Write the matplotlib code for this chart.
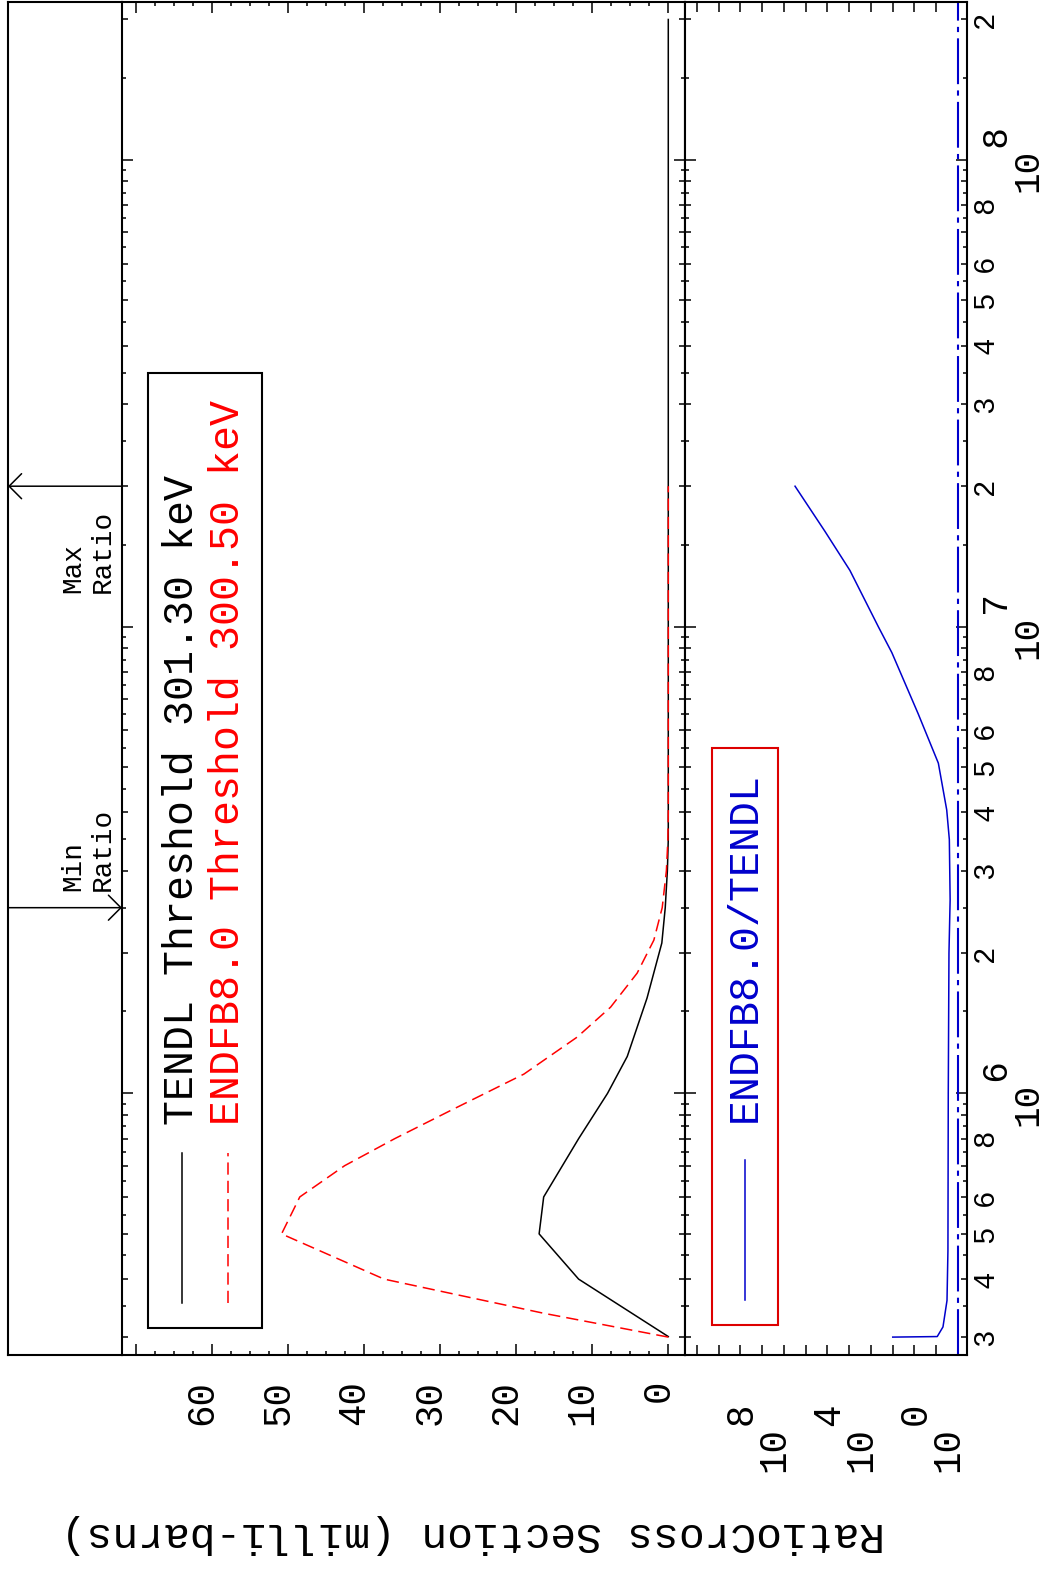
import numpy as np
import matplotlib
matplotlib.use("Agg")
import matplotlib.pyplot as plt
from matplotlib import transforms
from matplotlib.patches import Rectangle
from matplotlib.ticker import FixedLocator, FuncFormatter, MultipleLocator, NullLocator

plt.rcParams['font.family'] = ['Liberation Mono', 'DejaVu Sans Mono']

# cross sections (milli-barns) vs neutron energy (eV)
tendl_e = [3.013e5, 4e5, 5e5, 6e5, 8e5, 1e6, 1.2e6, 1.6e6, 2.1e6, 2.5e6, 3e6, 3.5e6, 2e8]
tendl_xs = [0, 11.8, 17.0, 16.4, 11.8, 8.0, 5.4, 2.8, 0.85, 0.4, 0.12, 0, 0]

endf_e = [3.005e5, 3.38e5, 4e5, 5e5, 6e5, 7e5, 8e5, 9.2e5, 1.1e6, 1.32e6, 1.53e6,
          1.81e6, 2.13e6, 2.5e6, 3e6, 3.5e6, 4e6, 2e7]
endf_xs = [0, 16.4, 37.4, 50.9, 48.5, 42.6, 36.0, 28.6, 19.0, 12.0, 7.6,
           4.1, 1.9, 0.8, 0.25, 0.05, 0, 0]

# ratio ENDFB8.0 / TENDL
ratio_e = [3.005e5, 3.013e5, 3.16e5, 3.6e5, 4.6e5, 1e6, 2e6, 2.6e6, 3.5e6, 4.05e6,
           5.1e6, 6.5e6, 8.8e6, 1e7, 1.32e7, 1.6e7, 2e7]
ratio = [1.0e3, 9.0, 4.9, 3.2, 2.9, 2.8, 2.6, 2.3, 2.5, 3.3,
         8.0, 67, 1.1e3, 4.6e3, 9.3e4, 1.3e6, 3.1e7]

min_ratio_e = 2.5e6
max_ratio_e = 2.0e7

xs_ticks = [0, 10, 20, 30, 40, 50, 60, 70]
xs_labels = ['0', '10', '20', '30', '40', '50', '60', '']
ratio_exp = list(range(0, 13))
ratio_labelled = [0, 4, 8]
energy_decades = [1e6, 1e7, 1e8]
labelled_mant = [2, 3, 4, 5, 6, 8]

W, H = 1048, 1573
fig = plt.figure(figsize=(W / 100, H / 100), dpi=100)


def px_axes(x0, x1, y0, y1, **kw):
    return fig.add_axes([x0 / W, 1 - y1 / H, (x1 - x0) / W, (y1 - y0) / H], **kw)


def pow_label(k):
    # exponent on its own line so it keeps full size once rotated
    return '  %d\n10' % k


ax_s = px_axes(8, 122, 2, 1355)
ax1 = px_axes(122, 685, 2, 1355, sharey=ax_s)
ax2 = px_axes(685, 967, 2, 1355, sharey=ax_s)

ax_s.set_yscale('log')
ax_s.set_ylim(10 ** 5.4395, 10 ** 8.3385)
ax_s.set_xlim(0, 1)
ax1.set_xlim(71.9, -2.2)
ax2.set_xscale('log')
ax2.set_xlim(10 ** 12.55, 10 ** -0.414)

for ax in (ax_s, ax1, ax2):
    for sp in ax.spines.values():
        sp.set_linewidth(1.5)
ax_s.spines['right'].set_visible(False)

# energy axis ticks
minor_e = [m * 10.0 ** k for k in range(5, 9) for m in range(2, 10)]
ax_s.yaxis.set_major_locator(FixedLocator(energy_decades))
ax_s.yaxis.set_minor_locator(FixedLocator(minor_e))
ax_s.yaxis.set_major_formatter(FuncFormatter(lambda v, p: pow_label(round(np.log10(v)))))


def minor_fmt(v, p):
    m = int(round(v / 10 ** np.floor(np.log10(v) + 1e-9)))
    return str(m) if m in labelled_mant else ''


ax_s.yaxis.set_minor_formatter(FuncFormatter(minor_fmt))
ax_s.tick_params(which='both', left=False, right=False, bottom=False, top=False,
                 labelleft=False, labelbottom=False)

ax1.tick_params(axis='y', which='both', direction='in', left=True, right=True,
                labelleft=False, labelright=False, width=1.1)
ax1.tick_params(axis='y', which='major', length=8)
ax1.tick_params(axis='y', which='minor', length=4.5)
ax1.set_xticks(xs_ticks, xs_labels)
ax1.xaxis.set_minor_locator(MultipleLocator(2.5))
ax1.tick_params(axis='x', which='both', direction='in', top=True, bottom=True, width=1.1)
ax1.tick_params(axis='x', which='major', length=7.7, labelsize=27, pad=18, labelrotation=90)
ax1.tick_params(axis='x', which='minor', length=3)

ax2.tick_params(axis='y', which='both', direction='in', left=True, right=True,
                labelleft=False, labelright=True, labelrotation=90, width=1.1)
ax2.tick_params(axis='y', which='major', length=8, labelsize=26, pad=10)
ax2.tick_params(axis='y', which='minor', length=4.5, labelsize=21, pad=3)
ax2.set_xticks([10.0 ** k for k in ratio_exp],
               [pow_label(k) if k in ratio_labelled else '' for k in ratio_exp])
ax2.xaxis.set_minor_locator(NullLocator())
ax2.tick_params(axis='x', which='major', direction='in', top=True, bottom=True,
                length=7, width=1.1, labelsize=27, pad=36, labelrotation=90)

for lab in ax1.get_xticklabels():
    lab.set_rotation_mode('anchor')
    lab.set_ha('right')
    lab.set_va('baseline')
shift = transforms.ScaledTranslation(0.08, 0, fig.dpi_scale_trans)
for lab in ax2.get_xticklabels():
    lab.set_rotation_mode('anchor')
    lab.set_ha('right')
    lab.set_va('bottom')
    lab.set_multialignment('left')
    lab.set_linespacing(0.78)
    lab.set_transform(lab.get_transform() + shift)
for lab in ax2.get_yticklabels(which='both'):
    lab.set_ha('left')
    lab.set_va('center')
    lab.set_multialignment('left')
    lab.set_linespacing(0.78)

# half-step ticks on the energy axes
lo, hi = ax_s.get_ylim()
half_e = [m * 10.0 ** k for k in range(5, 9) for m in np.arange(1.5, 10, 1.0)]
half_e = [e for e in half_e if lo < e < hi]
for ax in (ax1, ax2):
    tr = transforms.blended_transform_factory(ax.transAxes, ax.transData)
    ax.plot(np.zeros(len(half_e)), half_e, ls='none', marker=1, ms=2.6, mew=1.1,
            color='k', transform=tr, clip_on=False)
    ax.plot(np.ones(len(half_e)), half_e, ls='none', marker=0, ms=2.6, mew=1.1,
            color='k', transform=tr, clip_on=False)

# curves
ax1.plot(tendl_xs, tendl_e, color='k', lw=1.1)
ax1.plot(endf_xs, endf_e, color='#ff0000', lw=1.1, ls=(0, (8, 4)))
ax2.plot(ratio, ratio_e, color='#0000cc', lw=1.1)
ax2.axvline(1.0, color='#0000cc', lw=1.5, ls=(0, (22, 3, 2.5, 3)))

# legends
ax1.add_patch(Rectangle((0.0453, 0.020), 0.2025, 0.706, fill=False, lw=1.5,
                        ec='k', transform=ax1.transAxes))
ax1.plot([0.1066, 0.1066], [0.0384, 0.1493], transform=ax1.transAxes, color='k', lw=1.1)
ax1.plot([0.1883, 0.1883], [0.0384, 0.1493], transform=ax1.transAxes,
         color='#ff0000', lw=1.1, ls=(0, (8, 4)))
ax1.text(0.1066, 0.170, 'TENDL Threshold 301.30 keV', rotation=90, ha='center',
         va='bottom', fontsize=30, transform=ax1.transAxes)
ax1.text(0.1883, 0.170, 'ENDFB8.0 Threshold 300.50 keV', rotation=90, ha='center',
         va='bottom', fontsize=30, color='#ff0000', transform=ax1.transAxes)

ax2.add_patch(Rectangle((0.094, 0.022), 0.236, 0.427, fill=False, lw=1.5,
                        ec='#dd0000', transform=ax2.transAxes))
ax2.plot([0.2128, 0.2128], [0.0407, 0.1441], transform=ax2.transAxes,
         color='#0000cc', lw=1.1)
ax2.text(0.2128, 0.172, 'ENDFB8.0/TENDL', rotation=90, ha='center', va='bottom',
         fontsize=30, color='#0000cc', transform=ax2.transAxes)

# min / max ratio markers
head = dict(arrowstyle='->,head_length=0.45,head_width=0.45', lw=1.1, color='k',
            shrinkA=0, shrinkB=0, mutation_scale=20)
ax_s.annotate('', xy=(1, min_ratio_e), xytext=(0, min_ratio_e), arrowprops=head,
              annotation_clip=False)
ax_s.annotate('', xy=(0, max_ratio_e), xytext=(1, max_ratio_e), arrowprops=head,
              annotation_clip=False)
ax_s.annotate('Min\nRatio', xy=(0.70, min_ratio_e), xytext=(0, 12),
              textcoords='offset points', rotation=90, ha='center', va='bottom',
              multialignment='left', fontsize=20)
ax_s.annotate('Max\nRatio', xy=(0.70, max_ratio_e), xytext=(0, -17),
              textcoords='offset points', rotation=90, ha='center', va='top',
              multialignment='left', fontsize=20)

fig.text(473 / W, 1 - 1534 / H, 'RatioCross Section (milli-barns)', rotation=180,
         ha='center', va='center', fontsize=31)

fig.savefig('out.png', dpi=100)
